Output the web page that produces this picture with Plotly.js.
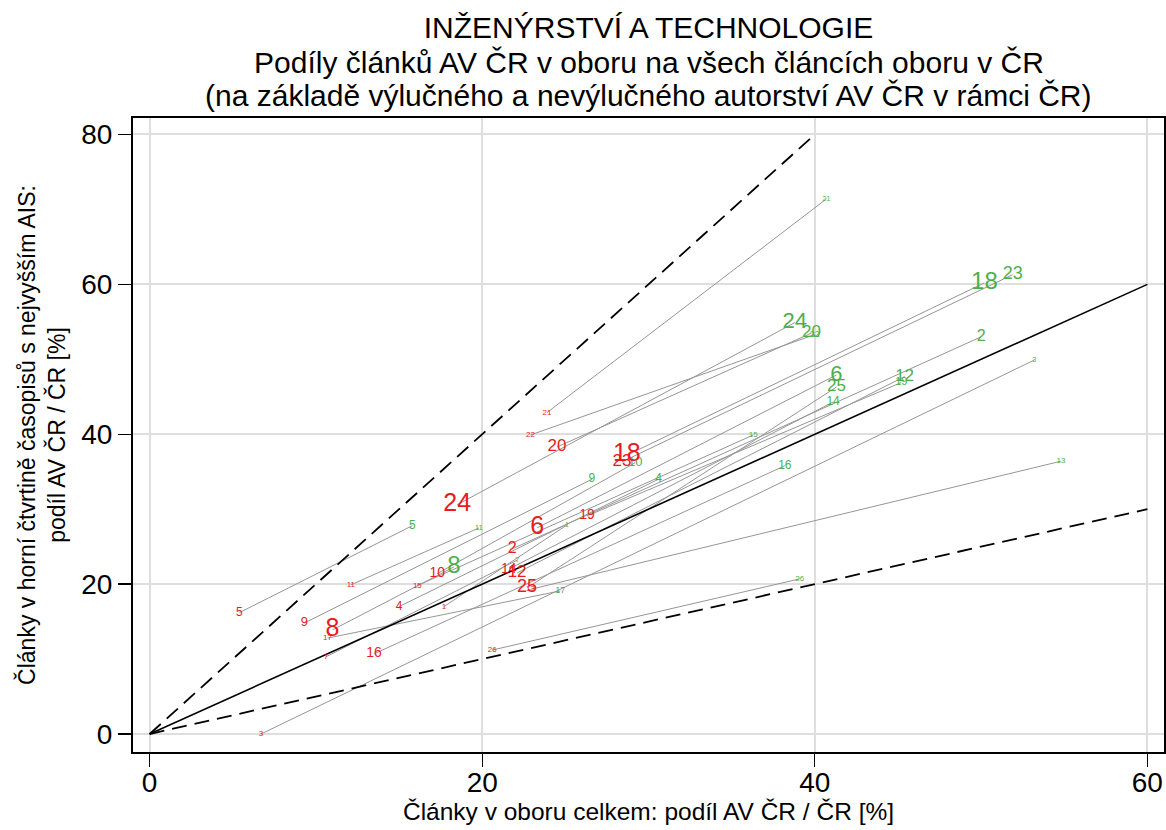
<!DOCTYPE html>
<html>
<head>
<meta charset="utf-8">
<script src="https://cdn.plot.ly/plotly-3.0.1.min.js"></script>
<style>html,body{margin:0;padding:0;background:#fff;}#chart{width:1166px;height:830px;}</style>
</head>
<body>
<div id="chart"></div>
<script>
// Category labels (fields 1..26)
const categories = ['1','2','3','4','5','6','7','8','9','10','11','12','13','14','15','16','17','18','19','20','21','22','23','24','25','26'];

// Earlier period (red): share of all articles (x) and of top-quartile AIS articles (y), %
const xStart = [17.7, 21.8, 6.7, 15.0, 5.4, 23.3, 10.6, 11.0, 9.3, 17.3, 12.1, 22.1, 22.9, 21.6, 16.1, 13.5, 10.7, 28.7, 26.3, 24.5, 23.9, 22.9, 28.4, 18.5, 22.7, 20.6];
const yStart = [17.0, 24.7, 0.0, 17.0, 16.2, 27.5, 10.3, 13.9, 14.8, 21.4, 19.9, 21.5, 19.3, 22.0, 19.8, 10.7, 12.8, 37.2, 29.1, 38.3, 42.9, 39.9, 36.3, 30.6, 19.5, 11.2];

// Later period (green)
const xEnd = [25.1, 50.0, 53.2, 30.6, 15.8, 41.3, 22.1, 18.3, 26.6, 29.2, 19.8, 45.4, 54.8, 41.1, 36.3, 38.2, 24.7, 50.2, 45.2, 39.8, 40.7, 40.0, 51.9, 38.8, 41.3, 39.1];
const yEnd = [27.9, 53.0, 49.9, 34.0, 27.8, 47.9, 23.2, 22.3, 34.0, 36.2, 27.5, 47.7, 36.4, 44.3, 39.9, 35.8, 19.1, 60.2, 46.9, 53.5, 71.4, 53.3, 61.3, 54.9, 46.3, 20.7];

// Reference-line ratios (y = k * x) and their x extents
const refRatios = [1, 2, 0.5];
const refXMax = [60, 40, 60];

const xTicks = [0, 20, 40, 60];
const yTicks = [0, 20, 40, 60, 80];

const titleLines = [
  'INŽENÝRSTVÍ A TECHNOLOGIE',
  'Podíly článků AV ČR v oboru na všech článcích oboru v ČR',
  '(na základě výlučného a nevýlučného autorství AV ČR v rámci ČR)'
];

// ---- styles (kept apart from the data) ----
const startFontSizes = [8,16,8,12,12,25,8,25,13,14,8,17,8,14,8,14,8,25,14,17,8,8,17,25,18,8];
const endFontSizes   = [7,16,7,12,12,22,8,24,12,13,8,17,8,12,8,12,9,24,11,17,7,9,18,22,17,8];
const RED = 'rgb(232,28,32)';
const GREEN = 'rgb(77,175,74)';
const FONT = 'Liberation Sans, Arial, sans-serif';

// connector lines (one trace, segments separated by nulls)
const cx = [], cy = [];
for (let i = 0; i < categories.length; i++) {
  cx.push(xStart[i], xEnd[i], null);
  cy.push(yStart[i], yEnd[i], null);
}

const traces = [];
traces.push({
  x: cx, y: cy, mode: 'lines', type: 'scatter',
  line: {color: 'rgb(150,150,150)', width: 1}, hoverinfo: 'skip', showlegend: false
});

const refDash = ['solid', '15px,8px', '15px,8px'];
refRatios.forEach((k, j) => {
  traces.push({
    x: [0, refXMax[j]], y: [0, k * refXMax[j]], mode: 'lines', type: 'scatter',
    line: {color: 'black', width: j === 0 ? 1.6 : 1.8, dash: refDash[j]},
    hoverinfo: 'skip', showlegend: false
  });
});

traces.push({
  x: xEnd, y: yEnd, text: categories, mode: 'text', type: 'scatter',
  textposition: 'middle center',
  textfont: {family: FONT, size: endFontSizes, color: GREEN},
  showlegend: false, name: 'konec'
});
traces.push({
  x: xStart, y: yStart, text: categories, mode: 'text', type: 'scatter',
  textposition: 'middle center',
  textfont: {family: FONT, size: startFontSizes, color: RED},
  showlegend: false, name: 'začátek'
});

const axisCommon = {
  showline: true, mirror: true, linecolor: 'black', linewidth: 2,
  ticks: 'outside', ticklen: 13, tickwidth: 1.3, tickcolor: 'black',
  showgrid: true, gridcolor: 'rgb(222,222,222)', gridwidth: 2,
  zeroline: false,
  tickfont: {family: FONT, size: 28, color: 'black'}
};

const H = 830, MT = 118, MB = 78;
const plotH = H - MT - MB;
// subtitle lines placed as paper-referenced annotations (tighter line spacing, like the original)
const subtitleCentersPx = [62, 95];
const annotations = [1, 2].map((li, k) => ({
  text: titleLines[li], xref: 'paper', yref: 'paper', x: 0.5,
  y: (H - MB - subtitleCentersPx[k]) / plotH, xanchor: 'center', yanchor: 'middle',
  showarrow: false, font: {family: FONT, size: 30, color: 'black'}
}));

const layout = {
  width: 1166, height: H,
  margin: {l: 133, r: 2, t: MT, b: MB},
  paper_bgcolor: 'white', plot_bgcolor: 'white',
  font: {family: FONT, color: 'black'},
  title: {
    text: titleLines[0],
    font: {family: FONT, size: 30, color: 'black'},
    xref: 'paper', x: 0.5, xanchor: 'center',
    yref: 'container', y: 1 - 27 / H, yanchor: 'middle'
  },
  annotations: annotations,
  xaxis: Object.assign({}, axisCommon, {
    range: [-1.0, 61.0], tickvals: xTicks, ticktext: xTicks.map(String),
    ticklabelstandoff: -9,
    title: {text: 'Články v oboru celkem: podíl AV ČR / ČR [%]', font: {family: FONT, size: 24.5, color: 'black'}, standoff: 6}
  }),
  yaxis: Object.assign({}, axisCommon, {
    range: [-2.4, 82.2], tickvals: yTicks, ticktext: yTicks.map(String),
    title: {text: 'Články v horní čtvrtině časopisů s nejvyšším AIS:<br>podíl AV ČR / ČR [%]', font: {family: FONT, size: 23, color: 'black'}, standoff: 9}
  }),
  showlegend: false
};

Plotly.newPlot('chart', traces, layout, {displayModeBar: false, staticPlot: true});
</script>
</body>
</html>
